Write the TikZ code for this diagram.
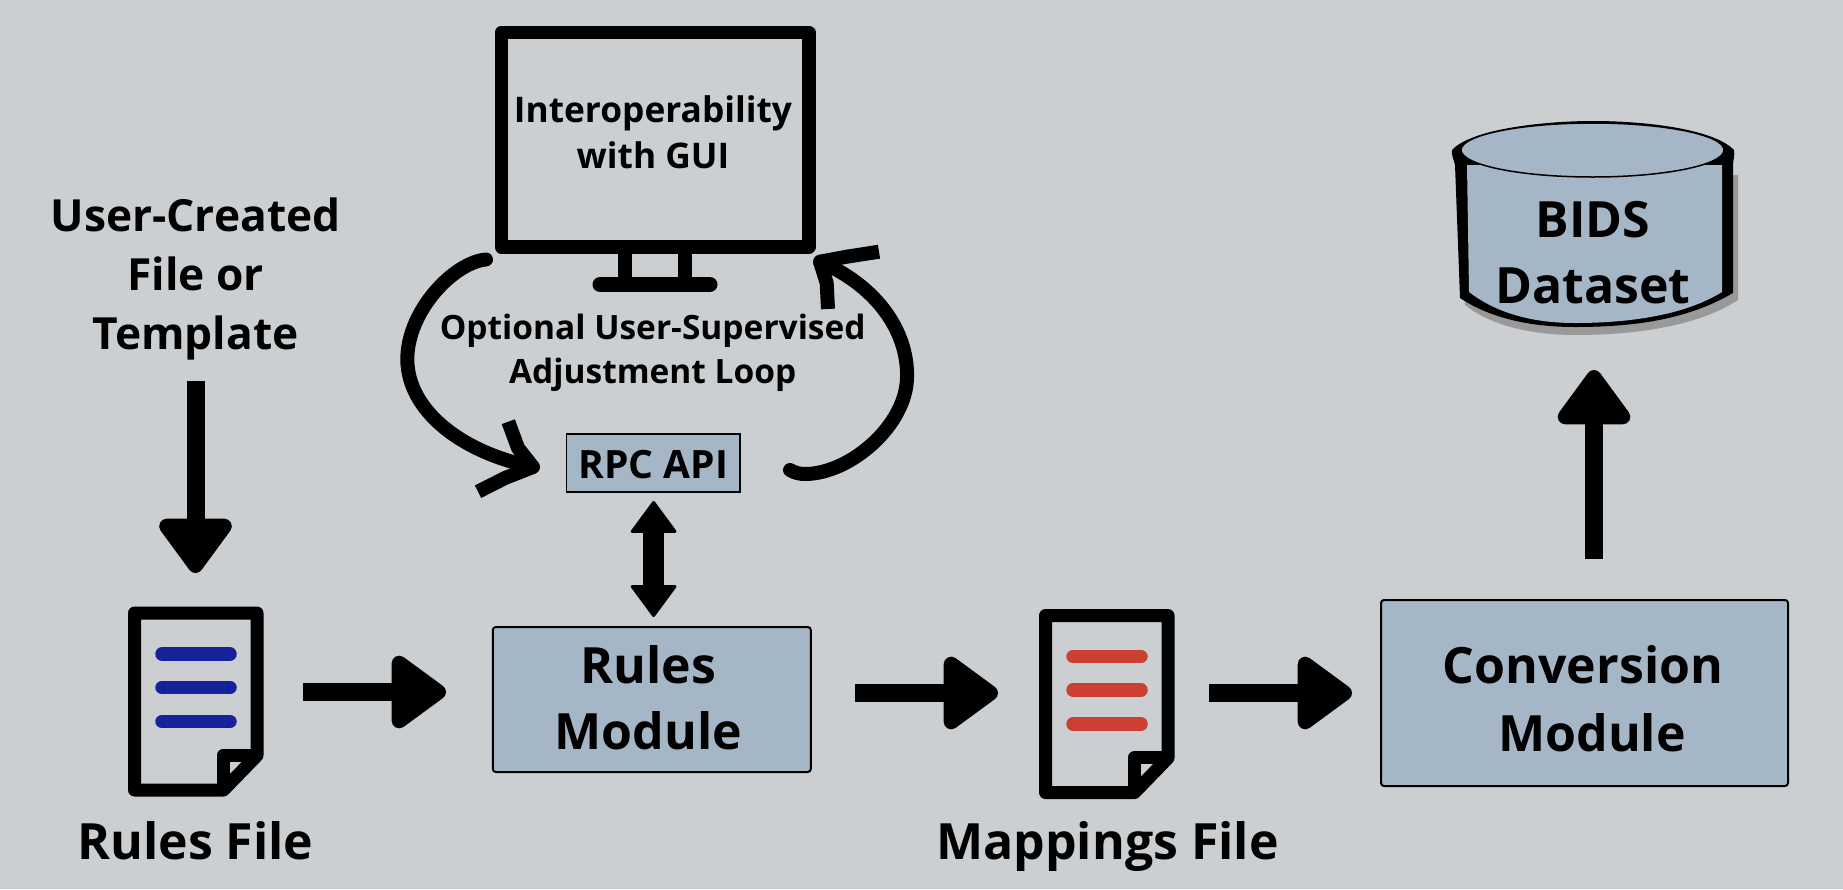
\documentclass[tikz,border=0pt]{standalone}
\usepackage{fontspec}
\setmainfont{Open Sans}[BoldFont={* Bold}]
\usetikzlibrary{arrows.meta}
\definecolor{bgcol}{RGB}{203,207,210}
\definecolor{boxcol}{RGB}{165,182,199}
\definecolor{ruleblue}{RGB}{21,34,154}
\definecolor{rulered}{RGB}{204,64,51}
\definecolor{shadowcol}{RGB}{153,153,153}
\tikzset{
  x=1pt,y=-1pt,
  txt/.style={inner sep=0pt,outer sep=0pt,align=center,text=black},
  modbox/.style={draw=black,fill=boxcol,line width=2pt,rounded corners=3pt,inner sep=0pt,align=center,font=\bfseries\fontsize{50}{66}\selectfont},
  fatarrow/.style={line width=18pt,-{Triangle[round,length=60pt,width=83pt,line width=18pt]}},
  dblarrow/.style={line width=21.5pt,{Triangle[round,length=33pt,width=48pt,line width=3pt]}-{Triangle[round,length=33pt,width=48pt,line width=3pt]}},
  loopline/.style={line width=14pt,line cap=round,line join=round},
  pics/docicon/.style={code={
    \draw[line width=13pt,line join=round] (6.5,6)--(129,6)--(129,148.5)--(95.5,183)--(6.5,183)--cycle;
    \draw[line width=13pt,line join=round] (95.5,183)--(95.5,148)--(129,148);
    \draw[#1,line width=13.5pt,line cap=round] (34,47)--(102,47) (34,80.5)--(102,80.5) (34,114.5)--(102,114.5);
  }}
}
\begin{document}
\begin{tikzpicture}
\useasboundingbox (0,0) rectangle (1843,889);
\fill[bgcol] (0,0) rectangle (1843,889);

% monitor
\node[draw=black,line width=13.5pt,line join=round,minimum width=307.5pt,minimum height=214.5pt,inner sep=0pt] (monitor) at (655.2,139.75) {};
\draw[line width=14pt] (624.6,250)--(624.6,280) (685.2,250)--(685.2,280);
\draw[line width=15pt,line cap=round] (600,284.5)--(710,284.5);
\node[txt,font=\bfseries\fontsize{35.3}{46}\selectfont] (guilabel) at (653,132) {Interoperability\\with GUI};
\node[txt,font=\bfseries\fontsize{33.5}{44}\selectfont] (looplabel) at (652.7,353) {Optional User-Supervised\\Adjustment Loop};

% rpc
\node[draw=black,fill=boxcol,line width=1.3pt,minimum width=173.6pt,minimum height=58pt,inner sep=0pt,font=\bfseries\fontsize{39}{48}\selectfont] (rpc) at (653.2,463) {\rule{0pt}{32pt}RPC API};

% loop arrows
\coordinate (lstart) at (486,259.5);
\coordinate (lend) at (533,467);
\draw[loopline] (lstart) .. controls (455,262) and (407,310) .. (407.3,360) .. controls (408,410) and (460,452) .. (lend);
\draw[loopline,line cap=butt,line join=bevel] (508.3,421.7)--(518,448)--(lend)--(505,478)--(478,491.7);
\coordinate (rstart) at (790,470);
\coordinate (rend) at (820,261.7);
\draw[loopline] (rstart) .. controls (795,473) and (800,474) .. (805,474) .. controls (850,474) and (907,425) .. (907,376.7) .. controls (908,330) and (875,285) .. (rend);
\draw[loopline,line cap=butt,line join=bevel] (879,251.7)--(846.7,256.7)--(rend)--(826.7,283)--(828,309);

% modules
\node[modbox,minimum width=318pt,minimum height=145pt] (rules) at (651.8,699.5) {Rules\hspace*{7pt}\\Module\hspace*{7pt}\rule[-3.5pt]{0pt}{1pt}};
\node[modbox,minimum width=407pt,minimum height=186pt] (conv) at (1584.5,693) {\rule{0pt}{50pt}Conversion\hspace*{3pt}\\[2pt]\hspace*{15pt}Module};

% docs
\pic (rulesdoc) at (128,607) {docicon=ruleblue};
\pic (mapdoc) at (1039,609.5) {docicon=rulered};

% labels
\node[txt,font=\bfseries\fontsize{44.3}{58.7}\selectfont] (usertext) at (195.5,279) {User-Created\\File or\\Template};
\node[txt,font=\bfseries\fontsize{50}{60}\selectfont,anchor=base] (ruleslabel) at (195.5,859) {Rules File};
\node[txt,font=\bfseries\fontsize{50}{60}\selectfont,anchor=base] (maplabel) at (1107.5,859) {Mappings File};

% arrows
\coordinate (a1s) at (195.5,381); \coordinate (a1e) at (195.5,573);
\coordinate (a2s) at (303,692); \coordinate (a2e) at (446,692);
\coordinate (a3s) at (855,693); \coordinate (a3e) at (998,693);
\coordinate (a4s) at (1209,693); \coordinate (a4e) at (1352,693);
\coordinate (a5s) at (1594,559); \coordinate (a5e) at (1594,370);
\coordinate (d1) at (653.6,501); \coordinate (d2) at (653.6,617);
\draw[fatarrow] (a1s)--(a1e);
\draw[fatarrow] (a2s)--(a2e);
\draw[fatarrow] (a3s)--(a3e);
\draw[fatarrow] (a4s)--(a4e);
\draw[fatarrow] (a5s)--(a5e);
\draw[dblarrow] (d1)--(d2);

% cylinder
\fill[shadowcol] (1460,175) -- (1738,175) -- (1738,300) .. controls (1700,325) and (1640,335) .. (1575,335) .. controls (1530,335) and (1490,325) .. (1465,305) -- cycle;
\fill[black] (1452,150) .. controls (1470,130) and (1540,121) .. (1593,121) .. controls (1650,121) and (1715,130) .. (1734,150)
  .. controls (1735,156) and (1733,160) .. (1733,165) -- (1733,293) .. controls (1690,318) and (1640,327) .. (1575,327) .. controls (1530,327) and (1490,318) .. (1460,298)
  -- (1455,165) .. controls (1454,160) and (1451,155) .. (1452,150) -- cycle;
\fill[boxcol] (1467,165) -- (1469,292) .. controls (1495,312) and (1530,323) .. (1575,323) .. controls (1640,323) and (1690,312) .. (1722,292) -- (1722,165) -- cycle;
\draw[black,fill=boxcol,line width=1.5pt] (1592.5,150) ellipse [x radius=131.5,y radius=27];
\node[txt,font=\bfseries\fontsize{50}{66}\selectfont] (bids) at (1593,253) {BIDS\\Dataset};
\end{tikzpicture}
\end{document}
